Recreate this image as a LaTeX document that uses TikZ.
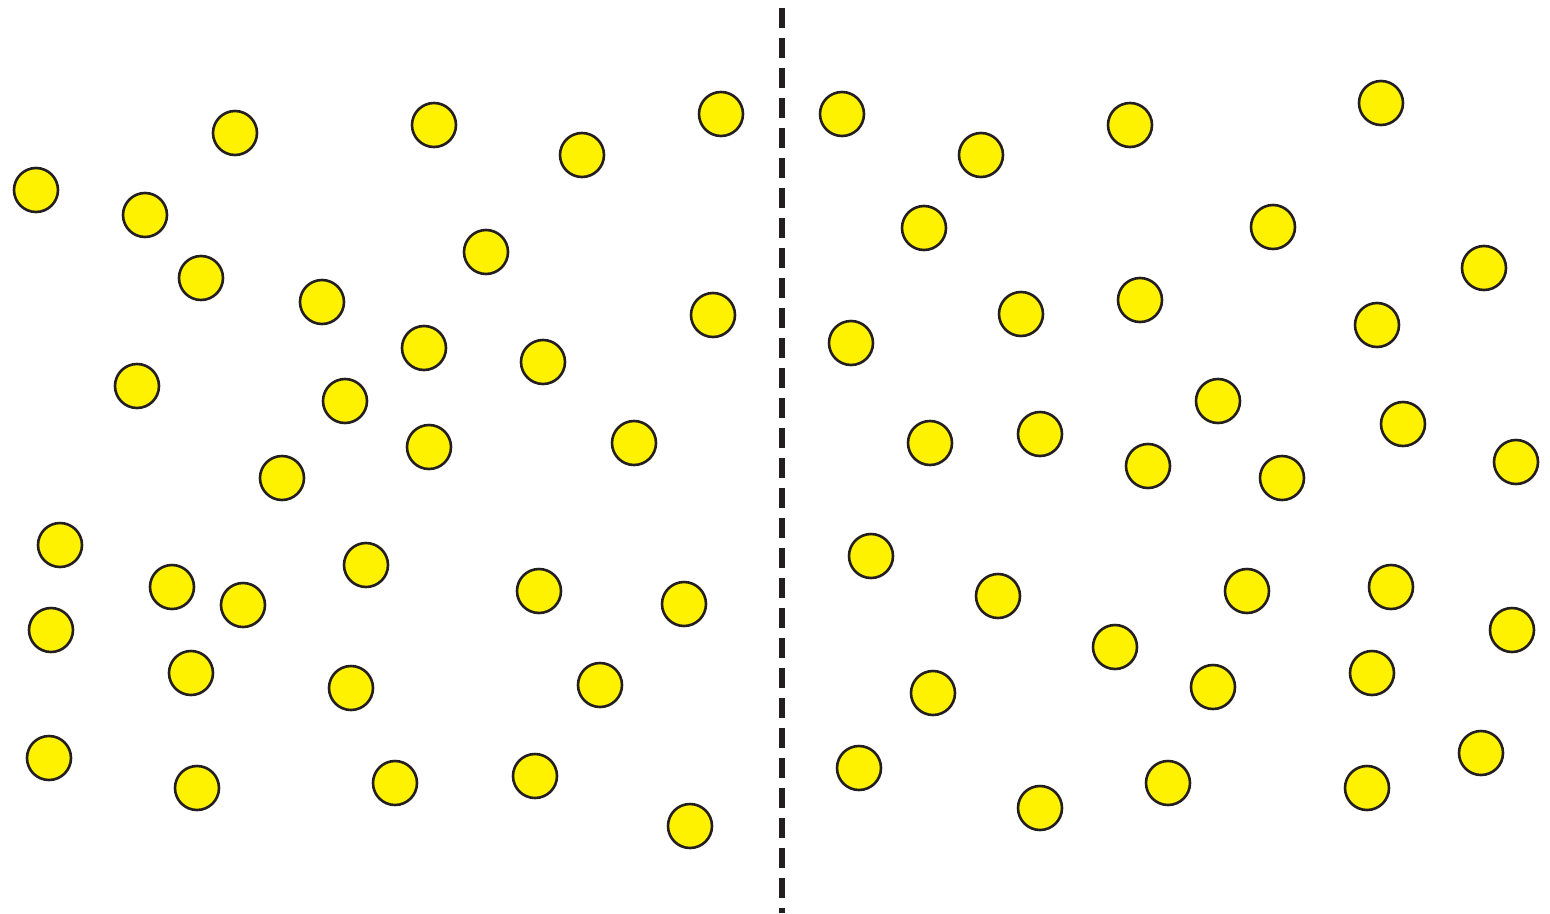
\documentclass[tikz,border=0pt]{standalone}
\definecolor{ink}{HTML}{231F20}
\definecolor{ball}{HTML}{FFF200}
\tikzset{particle/.style={circle,draw=ink,fill=ball,line width=2.6pt,minimum size=44pt,inner sep=0pt}}
\begin{document}
\begin{tikzpicture}[x=1pt,y=-1pt]
\useasboundingbox (0,0) rectangle (1550,913);
% left particles
\foreach \px/\py [count=\i] in {235/133,434/125,582/155,721/114,36/190,145/215,201/278,486/252,322/302,713/315,424/348,543/362,137/386,345/401,429/447,634/443,282/478,60/545,172/587,243/605,366/565,539/591,684/604,51/630,191/673,351/688,600/685,49/758,197/788,395/783,535/776,690/826}
  \node[particle] (L\i) at (\px,\py) {};
% right particles
\foreach \px/\py [count=\i] in {842/114,981/155,1130/125,1381/103,924/228,1273/227,1484/268,1021/314,1140/300,851/343,1377/325,1218/401,1403/424,930/443,1040/434,1148/466,1282/478,1516/462,871/556,998/596,1247/591,1391/587,1512/630,1115/647,933/693,1213/687,1372/673,859/768,1040/808,1168/783,1367/788,1481/753}
  \node[particle] (R\i) at (\px,\py) {};
% partition
\coordinate (top) at (782,8);
\coordinate (bot) at (782,913);
\draw[ink,line width=6pt,dash pattern=on 20pt off 10pt] (top) -- (bot);
\end{tikzpicture}
\end{document}
